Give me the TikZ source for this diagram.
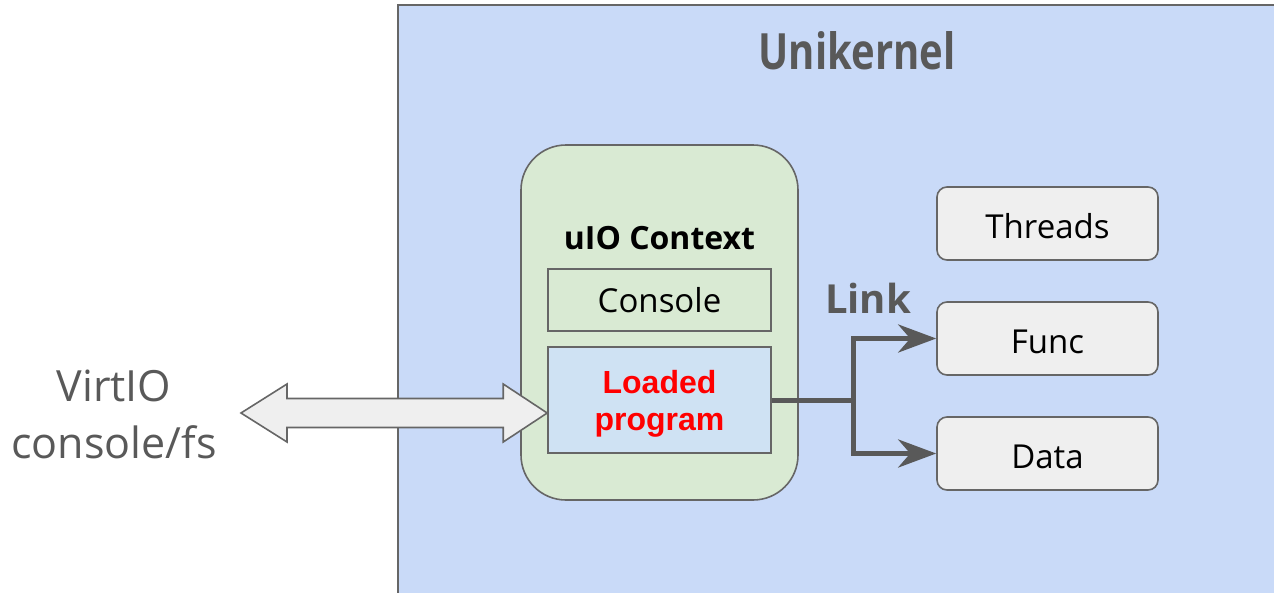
\documentclass[tikz,border=0pt]{standalone}
\usepackage{fontspec}
\setmainfont{Open Sans}
\newfontfamily\arialfont{Liberation Sans}
\usetikzlibrary{arrows.meta,calc}

\definecolor{kernelfill}{HTML}{C9DAF8}
\definecolor{ctxfill}{HTML}{D9EAD3}
\definecolor{progfill}{HTML}{CFE2F3}
\definecolor{boxfill}{HTML}{EFEFEF}
\definecolor{edge}{HTML}{666666}
\definecolor{ink}{HTML}{595959}
\definecolor{progred}{HTML}{FF0000}

\newcommand{\px}[1]{\fontsize{#1}{#1}\selectfont}

\tikzset{
  outline/.style={draw=edge, line width=1.6pt},
  ctxbox/.style={outline, fill=ctxfill, rounded corners=45pt, minimum width=277pt, minimum height=355pt},
  innerbox/.style={outline, minimum width=223pt, inner sep=0pt},
  partbox/.style={outline, fill=boxfill, rounded corners=10pt, minimum width=221pt, minimum height=73pt,
                  font=\px{33}, text height=30pt, text depth=0pt},
  linkline/.style={draw=ink, line width=5pt, -{Stealth[length=38pt, width=28pt, inset=12pt]}},
  blockarrow/.style={outline, fill=boxfill, line join=miter},
}

\begin{document}
\begin{tikzpicture}[x=1pt, y=-1pt]
  \useasboundingbox (0,0) rectangle (1274,592);
  \clip (0,0) rectangle (1274,592);

  % unikernel region, open to the right and bottom
  \fill[kernelfill] (398,5) rectangle (1290,610);
  \draw[edge, line width=1.6pt] (398,610) -- (398,5) -- (1290,5);
  \node[text=ink, font=\bfseries\px{50}, xscale=0.8] (title) at (857,51) {Unikernel};

  % uIO context and its parts
  \node[ctxbox] (uio) at (659.5,322.5) {};
  \node[font=\bfseries\px{32}] (uiotitle) at (659.5,238) {uIO Context};
  \node[innerbox, fill=ctxfill, minimum height=62pt, font=\px{33}] (console) at (659.5,300) {Console};
  \node[innerbox, fill=progfill, minimum height=106pt] (prog) at (659.5,400) {};
  \node[text=progred, align=center, font=\arialfont\bfseries\fontsize{32}{37}\selectfont]
        (progtext) at (659.5,404) {Loaded\\program};

  % linked components
  \node[partbox] (threads) at (1047.5,223.5) {Threads};
  \node[partbox] (func) at (1047.5,338.5) {Func};
  \node[partbox] (data) at (1047.5,453.5) {Data};

  % link connectors
  \coordinate (split) at (853,400);
  \draw[draw=ink, line width=5pt] (prog.east |- split) -- (split);
  \draw[linkline] (split) |- (func.west);
  \draw[linkline] (split) |- (data.west);
  \node[text=ink, font=\bfseries\px{40}] (link) at (868,298) {Link};

  % virtio block double arrow
  \coordinate (virt) at (241,413);
  \coordinate (virtend) at (prog.west |- virt);
  \draw[blockarrow] (virt) -- ++(46,-29) -- ++(0,14.5) -- ($(virtend)+(-44,-14.5)$)
    -- ++(0,-14.5) -- (virtend) -- ++(-44,29) -- ++(0,-14.5) -- ($(virt)+(46,14.5)$)
    -- ++(0,14.5) -- cycle;
  \node[text=ink, font=\fontsize{43}{57}\selectfont, align=center] (virtio) at (114,414) {VirtIO\\console/fs};
\end{tikzpicture}
\end{document}
